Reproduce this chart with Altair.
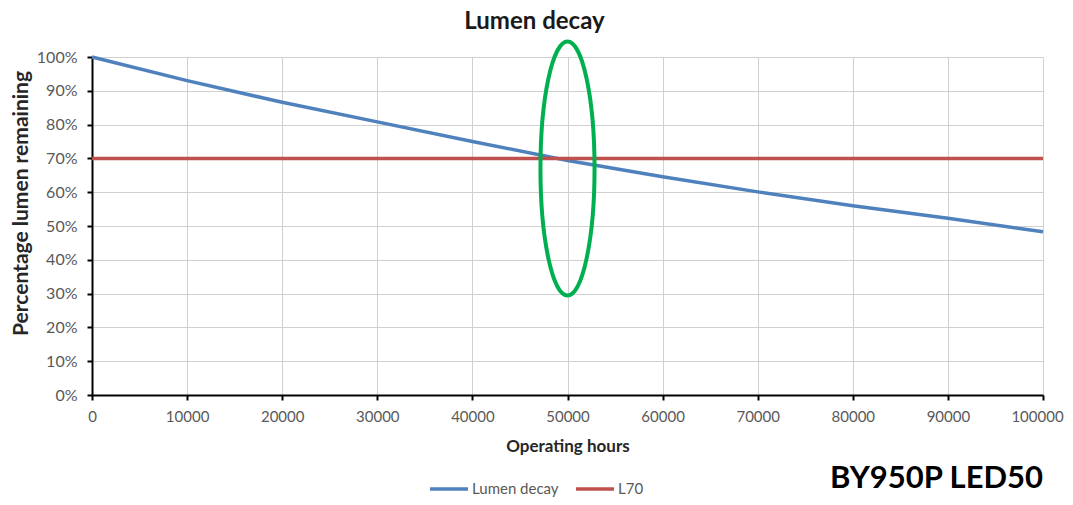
import altair as alt
import pandas as pd

# ---- data ----
hours = [0, 10000, 20000, 30000, 40000, 50000, 60000, 70000, 80000, 90000, 100000]
lumen_decay = [100, 93.0, 86.6, 80.8, 75.0, 69.4, 64.6, 60.1, 56.0, 52.3, 48.3]
l70_hours = [0, 100000]
l70_values = [70, 70]
series_names = ["Lumen decay", "L70"]
series_colors = ["#4F81BD", "#C0504D"]
x_ticks = [0, 10000, 20000, 30000, 40000, 50000, 60000, 70000, 80000, 90000, 100000]
y_ticks = [0, 10, 20, 30, 40, 50, 60, 70, 80, 90, 100]
highlight_hours = [50000]
highlight_pct = [67]
model_label = ["BY950P LED50"]

FONT = "Lato"

lines_df = pd.concat([
    pd.DataFrame({"hours": hours, "pct": lumen_decay, "series": series_names[0]}),
    pd.DataFrame({"hours": l70_hours, "pct": l70_values, "series": series_names[1]}),
])
hl_df = pd.DataFrame({"hours": highlight_hours, "pct": highlight_pct})
label_df = pd.DataFrame({"label": model_label})

x_enc = alt.X(
    "hours:Q",
    scale=alt.Scale(domain=[0, 100000], nice=False),
    axis=alt.Axis(values=x_ticks, format="d", title="Operating hours",
                  labelFlush=False, labelOverlap=False, labelPadding=9,
                  labelOffset=alt.ExprRef("datum.value == 100000 ? -6 : 0"),
                  labelFontSize=15, titleFontSize=17, titlePadding=14),
)
y_enc = alt.Y(
    "pct:Q",
    scale=alt.Scale(domain=[0, 100], nice=False),
    axis=alt.Axis(values=y_ticks, labelExpr="datum.value + '%'",
                  title="Percentage lumen remaining",
                  labelFlush=False, labelOverlap=False, labelPadding=10,
                  labelFontSize=16, titleFontSize=21,
                  titleX=-71, titleY=146, titleBaseline="middle",
                  titleAlign="center", titleAngle=270),
)

lines = alt.Chart(lines_df).mark_line(strokeWidth=3.5).encode(
    x=x_enc,
    y=y_enc,
    color=alt.Color(
        "series:N",
        scale=alt.Scale(domain=series_names, range=series_colors),
        legend=alt.Legend(
            title=None, orient="none", direction="horizontal",
            legendX=336, legendY=411, symbolType="stroke",
            symbolStrokeWidth=3.5, symbolSize=1444, labelFontSize=15,
            labelColor="#595959", labelFont=FONT, columnPadding=10,
            symbolOffset=0, labelOffset=2,
        ),
        sort=series_names,
    ),
)

ellipse = alt.Chart(hl_df).mark_point(
    shape="M0,-1 A0.213,1 0 1,1 0,1 A0.213,1 0 1,1 0,-1 Z",
    size=64516, filled=False, stroke="#00B050", strokeWidth=4, opacity=1,
).encode(x=x_enc, y=y_enc)

label = alt.Chart(label_df).mark_text(
    align="right", baseline="middle", fontSize=31, fontWeight="bold",
    font=FONT, color="#000000",
).encode(text="label:N", x=alt.value(951), y=alt.value(422))

chart = alt.layer(lines, ellipse, label).properties(
    width=951,
    height=338,
    autosize=alt.AutoSizeParams(type="none"),
    padding={"left": 84, "top": 49, "right": 22, "bottom": 102},
    title=alt.TitleParams(
        text="Lumen decay", font=FONT, fontSize=24, fontWeight="bold",
        color="#1a1a1a", anchor="middle", dx=-33, offset=0,
    ),
).configure_view(strokeWidth=0).configure_axis(
    gridColor="#D0D0D0", gridWidth=1, domainColor="#000000", domainWidth=2,
    tickColor="#000000", tickSize=5, tickWidth=2,
    labelFont=FONT, labelColor="#595959",
    titleFont=FONT, titleFontWeight="bold", titleColor="#262626",
)

chart.save("out.html", embed_options={"renderer": "svg", "actions": False})
